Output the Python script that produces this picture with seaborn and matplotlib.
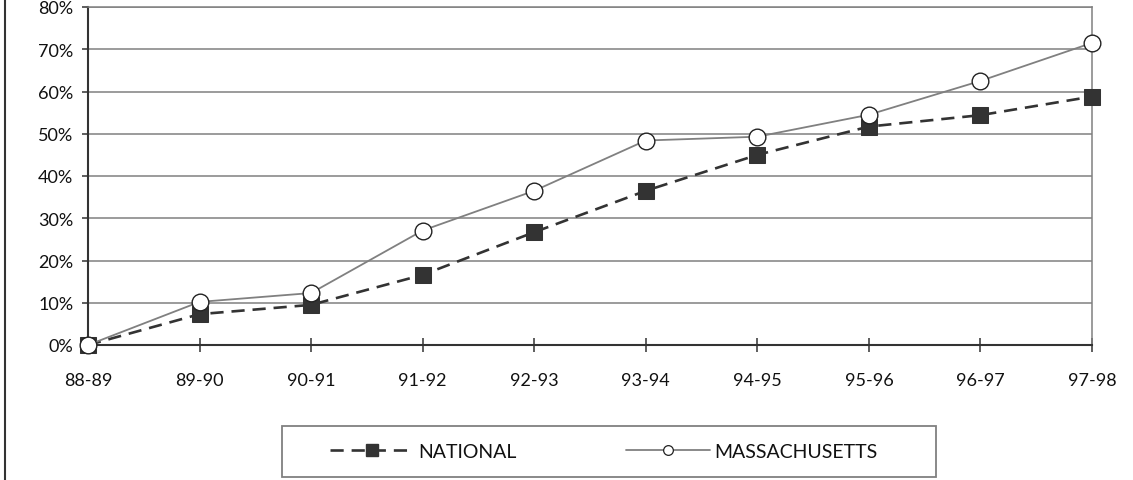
import matplotlib
matplotlib.use("Agg")
import matplotlib.pyplot as plt
from matplotlib.patches import Rectangle
from matplotlib.lines import Line2D
import seaborn as sns
import pandas as pd

years = ["88-89", "89-90", "90-91", "91-92", "92-93", "93-94", "94-95", "95-96", "96-97", "97-98"]
national = [0.0, 7.3, 9.5, 16.6, 26.7, 36.5, 45.0, 51.7, 54.4, 58.8]
massachusetts = [0.0, 10.2, 12.3, 27.1, 36.5, 48.4, 49.3, 54.5, 62.5, 71.5]
y_ticks = [0, 10, 20, 30, 40, 50, 60, 70, 80]

sns.set_style("white")
plt.rcParams['font.family'] = ['Lato', 'DejaVu Sans']

W, H = 1133, 481
fig = plt.figure(figsize=(W / 100, H / 100), dpi=100)
ax = fig.add_axes([88 / W, (H - 346) / H, (1092 - 88) / W, (346 - 8) / H])

pos = list(range(len(years)))
df_n = pd.DataFrame({"x": pos, "y": national})
df_m = pd.DataFrame({"x": pos, "y": massachusetts})

sns.lineplot(data=df_n, x="x", y="y", ax=ax, color="#333333", linewidth=1.9,
             marker="s", markersize=11.5, markerfacecolor="#333333",
             markeredgecolor="#333333", clip_on=False, zorder=3)
ax.lines[-1].set_dashes((5, 3))
sns.lineplot(data=df_m, x="x", y="y", ax=ax, color="#808080", linewidth=1.3,
             marker="o", markersize=12, markerfacecolor="white",
             markeredgecolor="#222222", markeredgewidth=1.0, clip_on=False, zorder=4)

ax.set_xlim(0, len(years) - 1)
ax.set_ylim(0, 80)
ax.set_xticks(pos)
ax.set_xticklabels(years)
ax.set_yticks(y_ticks)
ax.set_yticklabels([f"{v}%" for v in y_ticks])
ax.set_xlabel("")
ax.set_ylabel("")

ax.grid(axis="y", color="#808080", linewidth=1.1)
ax.set_axisbelow(True)
for s in ["top", "right"]:
    ax.spines[s].set_color("#808080")
    ax.spines[s].set_linewidth(1.1)
for s in ["left", "bottom"]:
    ax.spines[s].set_color("#333333")
    ax.spines[s].set_linewidth(1.5)

ax.tick_params(axis="y", direction="out", length=4.5, width=1.1, color="#333333",
               pad=6, labelsize=13, labelcolor="#111111", left=True)
ax.tick_params(axis="x", direction="inout", length=9.5, width=1.1, color="#333333",
               pad=15, labelsize=13, labelcolor="#111111", bottom=True)

# outer frame line on the left
fig.add_artist(Line2D([5.5 / W, 5.5 / W], [0, 1], color="#333333", linewidth=1.5,
                      transform=fig.transFigure))

# legend box
fig.add_artist(Rectangle((282 / W, (H - 478) / H), (936 - 282) / W, (478 - 427) / H,
                         transform=fig.transFigure, fill=False, edgecolor="#808080",
                         linewidth=1.3))

handles = [
    Line2D([], [], color="#333333", linewidth=1.9, dashes=(5, 3), marker="s",
           markersize=8, markerfacecolor="#333333", markeredgecolor="#333333"),
    Line2D([], [], color="#808080", linewidth=1.3, marker="o", markersize=7,
           markerfacecolor="white", markeredgecolor="#222222", markeredgewidth=0.9),
]
fig.legend(handles, ["NATIONAL", "MASSACHUSETTS"], loc="center",
           bbox_to_anchor=(604 / W, (H - 452.5) / H), ncol=2, frameon=False,
           fontsize=14, handlelength=4.3, handletextpad=0.25, columnspacing=5.6,
           numpoints=1, labelcolor="#111111")

fig.savefig("out.png", dpi=100)
